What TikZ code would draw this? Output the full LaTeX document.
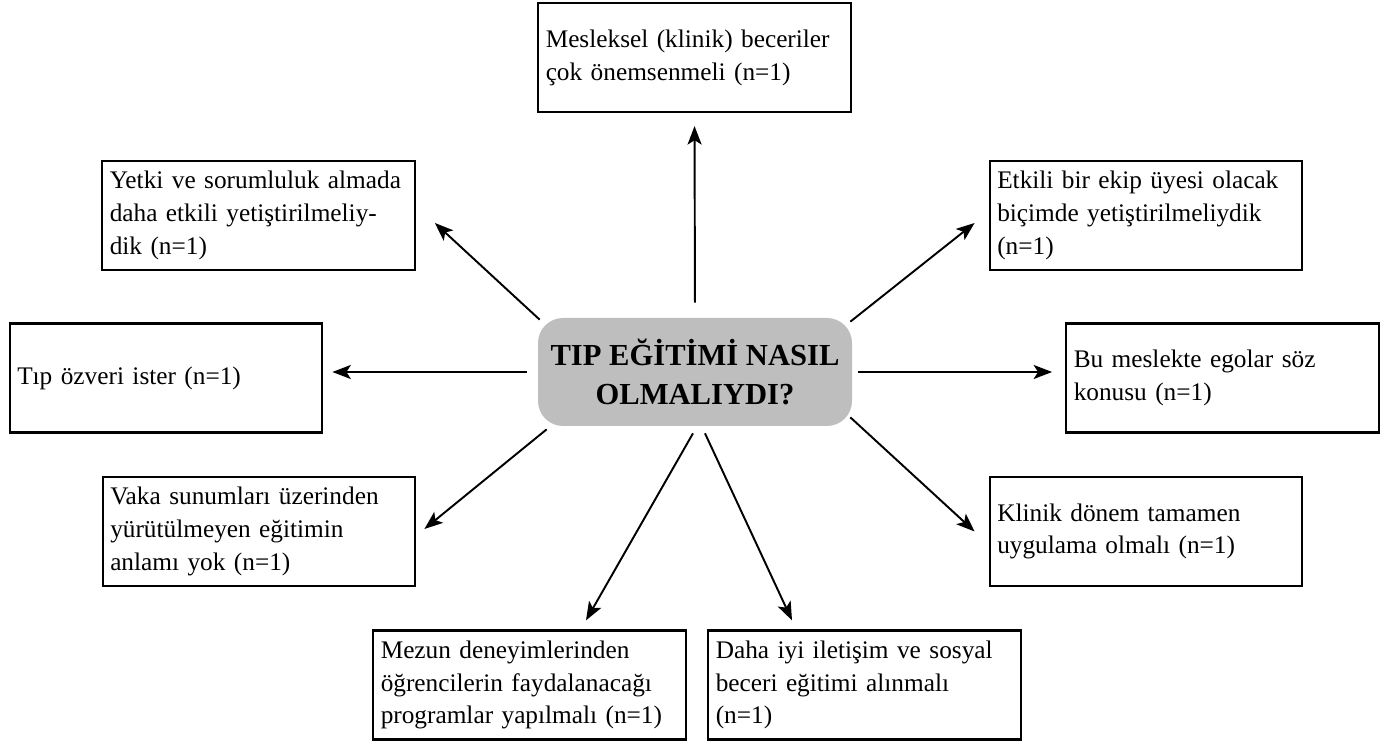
\documentclass[tikz,border=0pt]{standalone}
\usepackage{fontspec}
\setmainfont{Liberation Serif}
\usetikzlibrary{arrows.meta}
\definecolor{kutugri}{RGB}{190,190,190}

\begin{document}
\begin{tikzpicture}[
        kutu/.style={draw, line width=1.3pt, text width=5.95cm, align=left, inner xsep=0.15cm,
            minimum height=2.18cm, font=\fontsize{14.4}{18.7}\selectfont},
        merkez/.style={fill=kutugri, rounded corners=0.5cm, minimum width=6.28cm, minimum height=2.16cm,
            align=center, font=\bfseries\fontsize{17.4}{22.7}\selectfont},
        ok/.style={-{Stealth[length=10.5pt,width=8pt,inset=2.5pt]}, line width=1.1pt}]
\useasboundingbox (0,0) rectangle (27.82,14.86);
        \node[merkez] (O) at (13.90,7.42) {TIP EĞİTİMİ NASIL\\OLMALIYDI?};
        \node[kutu] (A) at (13.89,13.71) {Mesleksel (klinik) beceriler\\çok önemsenmeli (n=1)};
        \node[kutu] (B) at (22.92,10.55) {Etkili bir ekip üyesi olacak\\biçimde yetiştirilmeliydik\\(n=1)};
        \node[kutu] (C) at (24.45,7.30) {Bu meslekte egolar söz\\konusu (n=1)};
        \node[kutu] (D) at (22.92,4.23) {Klinik dönem tamamen\\uygulama olmalı (n=1)};
        \node[kutu] (E) at (17.29,1.16) {Daha iyi iletişim ve sosyal\\beceri eğitimi alınmalı\\(n=1)};
        \node[kutu] (F) at (10.59,1.16) {Mezun deneyimlerinden\\öğrencilerin faydalanacağı\\programlar yapılmalı (n=1)};
        \node[kutu] (G) at (5.18,4.23) {Vaka sunumları üzerinden\\yürütülmeyen eğitimin\\anlamı yok (n=1)};
        \node[kutu] (H) at (3.32,7.30) {Tıp özveri ister (n=1)};
        \node[kutu] (I) at (5.17,10.55) {Yetki ve sorumluluk almada\\daha etkili yetiştirilmeliy-\\dik (n=1)};
% oklar
\draw[ok, shorten <=0.3cm, shorten >=0.26cm] (O.north) -- (A.south);
\draw[ok] ([shift={(-0.04,-0.08)}]O.north east) -- ([shift={(-0.28,-0.15)}]B.west);
\draw[ok, shorten <=0.12cm, shorten >=0.26cm] (O.east) -- (O.east -| C.west);
\draw[ok] ([shift={(-0.04,0.18)}]O.south east) -- ([shift={(-0.28,0)}]D.west);
\draw[ok] ([shift={(0.2,-0.14)}]O.south) -- ([shift={(-1.45,0.18)}]E.north);
\draw[ok] ([shift={(-0.04,-0.14)}]O.south) -- ([shift={(1.13,0.18)}]F.north);
\draw[ok] ([shift={(0.18,-0.06)}]O.south west) -- ([shift={(0.16,0.05)}]G.east);
\draw[ok, shorten <=0.22cm, shorten >=0.18cm] (O.west) -- (O.west -| H.east);
\draw[ok] ([shift={(0.04,-0.04)}]O.north west) -- ([shift={(0.38,-0.15)}]I.east);
\end{tikzpicture}
\end{document}
